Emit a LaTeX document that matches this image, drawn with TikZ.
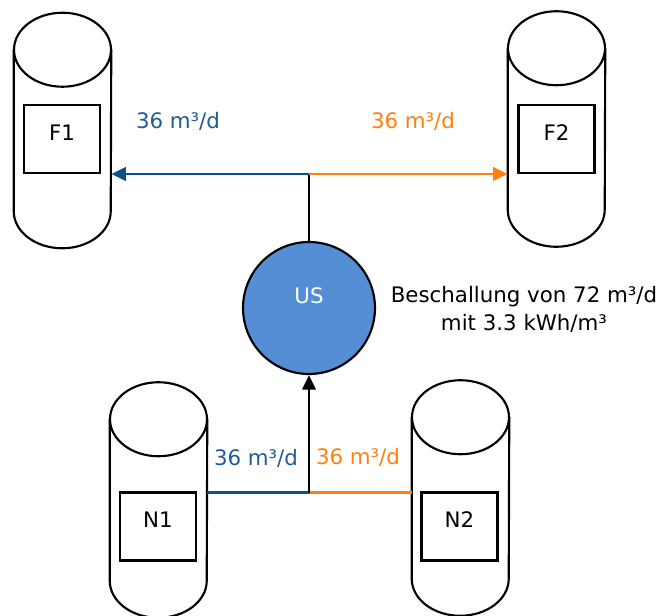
\documentclass[tikz,border=0pt]{standalone}
\usepackage{fontspec}
\setmainfont{DejaVu Sans}
\usetikzlibrary{arrows.meta, calc}
\definecolor{flowblue}{RGB}{12,82,138}
\definecolor{textblue}{RGB}{32,92,152}
\definecolor{floworange}{RGB}{255,128,14}
\definecolor{usblue}{RGB}{85,142,213}

% outline of a tank around a (not drawn) tank node
\newcommand\drawtank[1]{%
    \draw[tankline] ([yshift=-27.75pt]#1.north) ellipse [x radius=36.375pt, y radius=27.75pt];
    \draw[tankline] ([yshift=-27.75pt]#1.north west) -- ([yshift=27.75pt]#1.south west)
        arc[start angle=180, end angle=360, x radius=36.375pt, y radius=27.75pt]
        -- ([yshift=-27.75pt]#1.north east);
}

\begin{document}
\begin{tikzpicture}[x=0.75pt, y=-0.75pt,
    every node/.style={font=\fontsize{16}{21}\selectfont},
    tankline/.style={line width=1.6pt},
    tank/.style={rectangle, minimum width=72.75pt, minimum height=176.25pt, inner sep=0pt},
    unitbox/.style={draw, line width=1.6pt, rectangle, minimum width=57pt, minimum height=51pt,
      inner sep=0pt, text depth=10pt},
    flow/.style={line width=2.2pt},
    tip/.style={-{Triangle[length=11pt, width=10pt]}}]
    \useasboundingbox (0,0) rectangle (672,615);

    \node[tank] (F1) at (62.5, 130.5) {};
    \node[tank] (F2) at (556.5, 129) {};
    \node[tank] (N1) at (158.5, 500) {};
    \node[tank] (N2) at (460.5, 498) {};
    \drawtank{F1}
    \drawtank{F2}
    \drawtank{N1}
    \drawtank{N2}

    \node[unitbox] (F1box) at (62, 139) {F1};
    \node[unitbox] (F2box) at (556.5, 139) {F2};
    \node[unitbox] (N1box) at (158, 526.5) {N1};
    \node[unitbox] (N2box) at (459.5, 526.5) {N2};

    \node[draw, circle, line width=1.6pt, fill=usblue, text=white, minimum size=99pt,
      inner sep=0pt, text depth=19pt] (US) at (309, 308) {US};
    \node[align=center] (info) at (524, 309) {Beschallung von 72 m³/d\\mit 3.3 kWh/m³};

    \coordinate (jtop) at (309, 174);
    \coordinate (jbot) at (309, 492.5);

    \draw[flow] (US) -- (jtop);
    \draw[flow, tip, flowblue] (jtop) -- (jtop -| F1.east);
    \draw[flow, tip, floworange] (jtop) -- (jtop -| F2.west);
    \draw[flow, flowblue] (jbot -| N1.east) -- (jbot);
    \draw[flow, floworange] (jbot) -- (jbot -| N2.west);
    \draw[flow, tip] (jbot) -- (US);

    \node[text=textblue] (qF1) at (178, 121) {36 m³/d};
    \node[text=floworange] (qF2) at (413, 121) {36 m³/d};
    \node[text=textblue] (qN1) at (256, 458) {36 m³/d};
    \node[text=floworange] (qN2) at (358, 457) {36 m³/d};
\end{tikzpicture}
\end{document}
